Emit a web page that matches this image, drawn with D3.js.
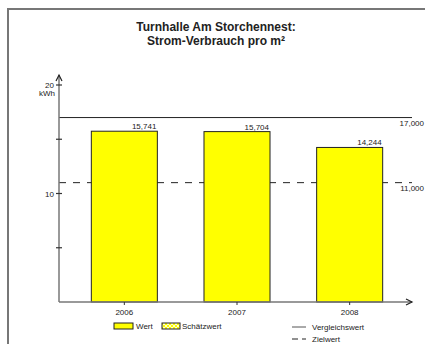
<!DOCTYPE html>
<html>
<head>
<meta charset="utf-8">
<script src="https://cdn.jsdelivr.net/npm/d3@7"></script>
<style>
  body { margin: 0; background: #fff; overflow: hidden; }
  svg { display: block; }
  text { font-family: "Liberation Sans", Arial, sans-serif; fill: #222; }
</style>
</head>
<body>
<div id="graph"></div>
<script>
// values
var years = ['2006', '2007', '2008']
var werte = [15.741, 15.704, 14.244]
var wertLabels = ['15,741', '15,704', '14,244']
var vergleich = 17
var vergleichLabel = '17,000'
var ziel = 11
var zielLabel = '11,000'
var yTicks = [10, 20]
var yMinor = [5, 15]

var W = 425, H = 344
var fs = '8px'

var svg = d3.select('#graph').append('svg')
  .attr('width', W).attr('height', H)

// outer frame (only top and left edges are in view)
svg.append('path').attr('d', 'M8,344L8,9L425,9')
  .attr('fill', 'none').attr('stroke', '#777').attr('stroke-width', 2)

// title
svg.append('text').attr('x', 216).attr('y', 31)
  .attr('text-anchor', 'middle').style('font-weight', 'bold').style('font-size', '12px')
  .text('Turnhalle Am Storchennest:')
svg.append('text').attr('x', 216).attr('y', 45)
  .attr('text-anchor', 'middle').style('font-weight', 'bold').style('font-size', '12px')
  .text('Strom-Verbrauch pro m²')

var x = d3.scaleBand().domain(years).range([68, 406])
  .paddingInner(0.414).paddingOuter(0.207)
var y = d3.scaleLinear().domain([0, 20]).range([302, 85])

var x0 = 59, y0 = y(0)

// reference line (solid) & target line (dashed)
svg.append('line')
  .attr('x1', x0).attr('x2', 412).attr('y1', y(vergleich)).attr('y2', y(vergleich))
  .attr('stroke', '#222').attr('stroke-width', 1)
svg.append('line')
  .attr('x1', x0).attr('x2', 412).attr('y1', y(ziel)).attr('y2', y(ziel))
  .attr('stroke', '#222').attr('stroke-width', 1).attr('stroke-dasharray', '7,7')

svg.append('text').attr('x', 424).attr('y', y(vergleich) + 8)
  .attr('text-anchor', 'end').style('font-size', fs).text(vergleichLabel)
svg.append('text').attr('x', 424).attr('y', y(ziel) + 8)
  .attr('text-anchor', 'end').style('font-size', fs).text(zielLabel)

// bars
svg.selectAll('rect.bar').data(werte).enter().append('rect')
  .attr('class', 'bar')
  .attr('x', (d, i) => x(years[i]))
  .attr('y', d => y(d))
  .attr('width', x.bandwidth())
  .attr('height', d => y0 - y(d))
  .attr('fill', '#ffff00').attr('stroke', '#222').attr('stroke-width', 1)

svg.selectAll('text.val').data(werte).enter().append('text')
  .attr('class', 'val')
  .attr('x', (d, i) => x(years[i]) + x.bandwidth() - 1)
  .attr('y', d => y(d) - 2)
  .attr('text-anchor', 'end').style('font-size', fs)
  .text((d, i) => wertLabels[i])

// axes
var axisCol = '#777'
svg.append('line').attr('x1', x0).attr('x2', x0).attr('y1', y0).attr('y2', 75)
  .attr('stroke', axisCol).attr('stroke-width', 1.5)
svg.append('line').attr('x1', x0).attr('x2', 412).attr('y1', y0).attr('y2', y0)
  .attr('stroke', axisCol).attr('stroke-width', 1.5)
svg.append('path').attr('d', `M${x0 - 3},${81}L${x0},${75}L${x0 + 3},${81}`)
  .attr('fill', 'none').attr('stroke', '#222').attr('stroke-width', 1.2)
svg.append('path').attr('d', `M406,${y0 - 3}L412,${y0}L406,${y0 + 3}`)
  .attr('fill', 'none').attr('stroke', '#222').attr('stroke-width', 1.2)

svg.selectAll('line.ytick').data(yTicks.concat(yMinor)).enter().append('line')
  .attr('x1', x0 - 3).attr('x2', x0 + 3)
  .attr('y1', d => y(d)).attr('y2', d => y(d))
  .attr('stroke', '#333').attr('stroke-width', 1.2)
svg.selectAll('text.ytick').data(yTicks).enter().append('text')
  .attr('x', x0 - 5).attr('y', d => y(d) + 3)
  .attr('text-anchor', 'end').style('font-size', fs).text(d => d)
svg.append('text').attr('x', x0 - 4).attr('y', y(20) + 11)
  .attr('text-anchor', 'end').style('font-size', fs).text('kWh')

svg.selectAll('line.xtick').data(years).enter().append('line')
  .attr('x1', d => x(d) + x.bandwidth() / 2).attr('x2', d => x(d) + x.bandwidth() / 2)
  .attr('y1', y0).attr('y2', y0 + 3)
  .attr('stroke', '#333')
svg.selectAll('text.xtick').data(years).enter().append('text')
  .attr('x', d => x(d) + x.bandwidth() / 2).attr('y', y0 + 13)
  .attr('text-anchor', 'middle').style('font-size', fs).text(d => d)

// legend
var defs = svg.append('defs')
var pat = defs.append('pattern').attr('id', 'hatch')
  .attr('patternUnits', 'userSpaceOnUse').attr('width', 4).attr('height', 4)
pat.append('rect').attr('width', 4).attr('height', 4).attr('fill', '#ffff00')
pat.append('path').attr('d', 'M0,0L4,4M4,0L0,4').attr('stroke', '#fff').attr('stroke-width', 0.8)

svg.append('rect').attr('x', 114).attr('y', 323).attr('width', 19).attr('height', 6)
  .attr('fill', '#ffff00').attr('stroke', '#222')
svg.append('text').attr('x', 136).attr('y', 329).style('font-size', fs).text('Wert')
svg.append('rect').attr('x', 162).attr('y', 323).attr('width', 18).attr('height', 6)
  .attr('fill', 'url(#hatch)').attr('stroke', '#222')
svg.append('text').attr('x', 182).attr('y', 329).style('font-size', fs).text('Schätzwert')

svg.append('line').attr('x1', 292).attr('x2', 306).attr('y1', 327).attr('y2', 327)
  .attr('stroke', '#555').attr('stroke-width', 1)
svg.append('text').attr('x', 312).attr('y', 330).style('font-size', fs).text('Vergleichswert')
svg.append('line').attr('x1', 292).attr('x2', 306).attr('y1', 339).attr('y2', 339)
  .attr('stroke', '#222').attr('stroke-width', 1).attr('stroke-dasharray', '6,4')
svg.append('text').attr('x', 312).attr('y', 342).style('font-size', fs).text('Zielwert')
</script>
</body>
</html>
